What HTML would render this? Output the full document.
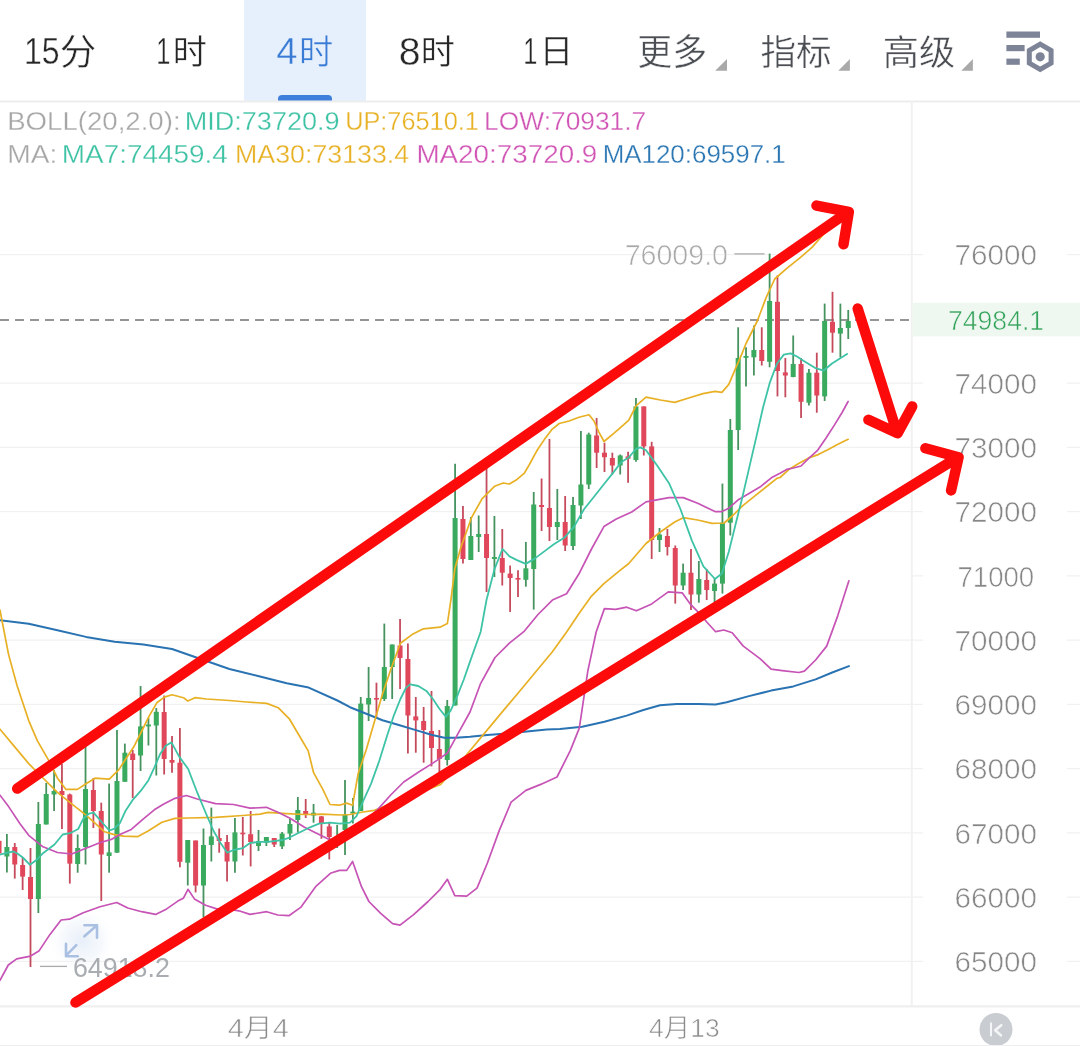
<!DOCTYPE html>
<html><head><meta charset="utf-8"><style>
html,body{margin:0;padding:0;background:#fff;}
body{width:1080px;height:1046px;overflow:hidden;position:relative;font-family:"Liberation Sans","Noto Sans CJK SC",sans-serif;}
svg{position:absolute;left:0;top:0;}
svg text{font-family:"Liberation Sans","Noto Sans CJK SC",sans-serif;}
</style></head><body>
<svg width="1080" height="1046" viewBox="0 0 1080 1046">
<rect x="0" y="0" width="1080" height="1046" fill="#fff"/>
<!-- header -->
<rect x="244" y="0" width="122" height="101" fill="#e6f0fc"/>
<path d="M278,101 L278,99 Q278,95 282,95 L328,95 Q332,95 332,99 L332,101 Z" fill="#3f7fdc"/>
<line x1="0" y1="101.4" x2="1080" y2="101.4" stroke="#ededed" stroke-width="2"/>
<text transform="matrix(0.8649,0,0,1.0038,23.91,64.40)" font-size="37" fill="#262626" stroke="#fff" stroke-width="0.4">15</text><text transform="matrix(1.1103,0,0,1.1000,59.68,64.50)" font-size="33" fill="#262626" stroke="#fff" stroke-width="0.4">分</text><text transform="matrix(0.6875,0,0,0.9962,156.24,64.20)" font-size="37" fill="#262626" stroke="#fff" stroke-width="0.4">1</text><text transform="matrix(1.0345,0,0,1.0323,172.80,63.90)" font-size="33" fill="#262626" stroke="#fff" stroke-width="0.4">时</text><text transform="matrix(1.0316,0,0,1.0038,276.37,64.20)" font-size="37" fill="#3a7bd6" stroke="#e6f0fc" stroke-width="0.4">4</text><text transform="matrix(1.0379,0,0,1.0323,298.89,63.90)" font-size="33" fill="#3a7bd6" stroke="#e6f0fc" stroke-width="0.4">时</text><text transform="matrix(1.0588,0,0,1.0308,398.78,64.80)" font-size="37" fill="#262626" stroke="#fff" stroke-width="0.4">8</text><text transform="matrix(1.0345,0,0,1.0323,420.80,63.90)" font-size="33" fill="#262626" stroke="#fff" stroke-width="0.4">时</text><text transform="matrix(0.6875,0,0,0.9962,523.34,64.20)" font-size="37" fill="#262626" stroke="#fff" stroke-width="0.4">1</text><text transform="matrix(1.0227,0,0,0.9897,539.56,62.73)" font-size="33" fill="#262626" stroke="#fff" stroke-width="0.4">日</text><text transform="matrix(1.0597,0,0,1.0903,637.18,65.03)" font-size="33" fill="#4b4e53" stroke="#fff" stroke-width="0.4">更多</text><text transform="matrix(1.0781,0,0,1.0742,760.42,64.78)" font-size="33" fill="#4b4e53" stroke="#fff" stroke-width="0.4">指标</text><text transform="matrix(1.1016,0,0,1.0645,882.70,64.81)" font-size="33" fill="#4b4e53" stroke="#fff" stroke-width="0.4">高级</text>
<path d="M727,59 L727,70.8 L715.2,70.8 Z" fill="#a9a9a9"/>
<path d="M849.9,59 L849.9,70.8 L838.3,70.8 Z" fill="#a9a9a9"/>
<path d="M972.9,59 L972.9,70.8 L961.3,70.8 Z" fill="#a9a9a9"/>
<!-- settings icon -->
<g fill="#7e8497">
<rect x="1006.4" y="31.5" width="33.6" height="6.3"/>
<rect x="1006.4" y="45" width="18.2" height="6.2"/>
<rect x="1006.4" y="58.6" width="13.4" height="6.2"/>
<circle cx="1040.2" cy="56.8" r="4.6"/>
</g>
<polygon points="1040.2,44.2 1051.1,50.5 1051.1,63.1 1040.2,69.4 1029.3,63.1 1029.3,50.5" fill="none" stroke="#7e8497" stroke-width="5"/>
<!-- legend -->
<text transform="matrix(1.0457,0,0,1.0000,7.21,130.00)" font-size="26.4" fill="#a6a6a6" stroke="#fff" stroke-width="0.3">BOLL(20,2.0):</text><text transform="matrix(1.0257,0,0,1.0000,184.65,130.00)" font-size="26.4" fill="#3dc2a4" stroke="#fff" stroke-width="0.3">MID:73720.9</text><text transform="matrix(0.9588,0,0,1.0000,345.18,130.00)" font-size="26.4" fill="#e8b124" stroke="#fff" stroke-width="0.3">UP:76510.1</text><text transform="matrix(0.9987,0,0,1.0000,484.10,130.00)" font-size="26.4" fill="#d055b5" stroke="#fff" stroke-width="0.3">LOW:70931.7</text><text transform="matrix(1.0674,0,0,1.0000,7.17,163.00)" font-size="26.4" fill="#a6a6a6" stroke="#fff" stroke-width="0.3">MA:</text><text transform="matrix(1.0571,0,0,1.0000,61.79,163.00)" font-size="26.4" fill="#3dc2a4" stroke="#fff" stroke-width="0.3">MA7:74459.4</text><text transform="matrix(1.0136,0,0,1.0000,235.07,163.00)" font-size="26.4" fill="#e8b124" stroke="#fff" stroke-width="0.3">MA30:73133.4</text><text transform="matrix(1.0542,0,0,1.0000,416.39,163.00)" font-size="26.4" fill="#d055b5" stroke="#fff" stroke-width="0.3">MA20:73720.9</text><text transform="matrix(0.9825,0,0,1.0000,602.63,163.00)" font-size="26.4" fill="#2b77b4" stroke="#fff" stroke-width="0.3">MA120:69597.1</text>
<!-- grid -->
<defs><radialGradient id="glow" cx="0.5" cy="0.5" r="0.5"><stop offset="0" stop-color="#e3ecf8" stop-opacity="0.85"/><stop offset="0.6" stop-color="#eef3fa" stop-opacity="0.5"/><stop offset="1" stop-color="#ffffff" stop-opacity="0"/></radialGradient></defs>
<circle cx="82" cy="941" r="34" fill="url(#glow)"/>
<line x1="0" y1="961.4" x2="1080" y2="961.4" stroke="#f1f1f1" stroke-width="1.4"/><line x1="0" y1="897.1" x2="1080" y2="897.1" stroke="#f1f1f1" stroke-width="1.4"/><line x1="0" y1="832.9" x2="1080" y2="832.9" stroke="#f1f1f1" stroke-width="1.4"/><line x1="0" y1="768.6" x2="1080" y2="768.6" stroke="#f1f1f1" stroke-width="1.4"/><line x1="0" y1="704.4" x2="1080" y2="704.4" stroke="#f1f1f1" stroke-width="1.4"/><line x1="0" y1="640.1" x2="1080" y2="640.1" stroke="#f1f1f1" stroke-width="1.4"/><line x1="911" y1="575.9" x2="1080" y2="575.9" stroke="#f1f1f1" stroke-width="1.4"/><line x1="0" y1="511.6" x2="1080" y2="511.6" stroke="#f1f1f1" stroke-width="1.4"/><line x1="0" y1="447.4" x2="1080" y2="447.4" stroke="#f1f1f1" stroke-width="1.4"/><line x1="0" y1="383.1" x2="1080" y2="383.1" stroke="#f1f1f1" stroke-width="1.4"/><line x1="0" y1="254.6" x2="1080" y2="254.6" stroke="#f1f1f1" stroke-width="1.4"/>
<line x1="911.8" y1="101" x2="911.8" y2="1006" stroke="#f1f1f1" stroke-width="2"/>
<line x1="0" y1="1006.4" x2="1080" y2="1006.4" stroke="#efefef" stroke-width="2.2"/>
<rect x="923" y="945.4" width="144" height="32" fill="#fff"/><rect x="923" y="881.1" width="144" height="32" fill="#fff"/><rect x="923" y="816.9" width="144" height="32" fill="#fff"/><rect x="923" y="752.6" width="144" height="32" fill="#fff"/><rect x="923" y="688.4" width="144" height="32" fill="#fff"/><rect x="923" y="624.1" width="144" height="32" fill="#fff"/><rect x="923" y="559.9" width="144" height="32" fill="#fff"/><rect x="923" y="495.6" width="144" height="32" fill="#fff"/><rect x="923" y="431.4" width="144" height="32" fill="#fff"/><rect x="923" y="367.1" width="144" height="32" fill="#fff"/><rect x="923" y="238.6" width="144" height="32" fill="#fff"/>
<rect x="912.5" y="302.8" width="167.5" height="33.6" fill="#eef8f1"/>
<line x1="0" y1="320" x2="910" y2="320" stroke="#959595" stroke-width="1.8" stroke-dasharray="9,6"/>
<!-- candles -->
<line x1="-0.96" y1="839.4" x2="-0.96" y2="863.5" stroke="#c44a5c" stroke-width="1.8"/><rect x="-3.46" y="840.8" width="5" height="12.7" fill="#e0475b"/><line x1="6.90" y1="834.0" x2="6.90" y2="872.6" stroke="#46935f" stroke-width="1.8"/><rect x="4.40" y="847.0" width="5" height="9.5" fill="#3aaa5e"/><line x1="14.76" y1="843.0" x2="14.76" y2="878.6" stroke="#c44a5c" stroke-width="1.8"/><rect x="12.26" y="847.0" width="5" height="17.5" fill="#e0475b"/><line x1="22.63" y1="857.0" x2="22.63" y2="890.0" stroke="#c44a5c" stroke-width="1.8"/><rect x="20.13" y="865.0" width="5" height="11.6" fill="#e0475b"/><line x1="30.49" y1="848.0" x2="30.49" y2="967.0" stroke="#c44a5c" stroke-width="1.8"/><rect x="27.99" y="877.0" width="5" height="22.0" fill="#e0475b"/><line x1="38.35" y1="802.0" x2="38.35" y2="913.0" stroke="#46935f" stroke-width="1.8"/><rect x="35.85" y="824.0" width="5" height="75.0" fill="#3aaa5e"/><line x1="46.22" y1="783.0" x2="46.22" y2="824.5" stroke="#46935f" stroke-width="1.8"/><rect x="43.72" y="794.0" width="5" height="30.5" fill="#3aaa5e"/><line x1="54.08" y1="770.0" x2="54.08" y2="811.0" stroke="#46935f" stroke-width="1.8"/><rect x="51.58" y="791.0" width="5" height="3.5" fill="#3aaa5e"/><line x1="61.94" y1="764.0" x2="61.94" y2="829.0" stroke="#c44a5c" stroke-width="1.8"/><rect x="59.44" y="791.0" width="5" height="4.0" fill="#e0475b"/><line x1="69.80" y1="793.6" x2="69.80" y2="883.6" stroke="#c44a5c" stroke-width="1.8"/><rect x="67.30" y="794.5" width="5" height="69.1" fill="#e0475b"/><line x1="77.67" y1="834.5" x2="77.67" y2="872.7" stroke="#46935f" stroke-width="1.8"/><rect x="75.17" y="848.0" width="5" height="16.0" fill="#3aaa5e"/><line x1="85.53" y1="747.0" x2="85.53" y2="864.5" stroke="#46935f" stroke-width="1.8"/><rect x="83.03" y="789.0" width="5" height="58.0" fill="#3aaa5e"/><line x1="93.39" y1="778.0" x2="93.39" y2="828.0" stroke="#c44a5c" stroke-width="1.8"/><rect x="90.89" y="790.0" width="5" height="21.0" fill="#e0475b"/><line x1="101.26" y1="802.7" x2="101.26" y2="901.0" stroke="#c44a5c" stroke-width="1.8"/><rect x="98.76" y="811.0" width="5" height="43.5" fill="#e0475b"/><line x1="109.12" y1="783.6" x2="109.12" y2="872.7" stroke="#46935f" stroke-width="1.8"/><rect x="106.62" y="852.4" width="5" height="3.6" fill="#3aaa5e"/><line x1="116.98" y1="730.0" x2="116.98" y2="852.7" stroke="#46935f" stroke-width="1.8"/><rect x="114.48" y="781.0" width="5" height="71.7" fill="#3aaa5e"/><line x1="124.85" y1="743.6" x2="124.85" y2="781.8" stroke="#46935f" stroke-width="1.8"/><rect x="122.35" y="752.7" width="5" height="29.1" fill="#3aaa5e"/><line x1="132.71" y1="750.0" x2="132.71" y2="798.0" stroke="#c44a5c" stroke-width="1.8"/><rect x="130.21" y="753.6" width="5" height="6.4" fill="#e0475b"/><line x1="140.57" y1="686.0" x2="140.57" y2="771.0" stroke="#46935f" stroke-width="1.8"/><rect x="138.07" y="726.4" width="5" height="29.1" fill="#3aaa5e"/><line x1="148.43" y1="718.0" x2="148.43" y2="745.5" stroke="#46935f" stroke-width="1.8"/><rect x="145.93" y="724.5" width="5" height="1.9" fill="#3aaa5e"/><line x1="156.30" y1="708.0" x2="156.30" y2="775.5" stroke="#46935f" stroke-width="1.8"/><rect x="153.80" y="711.8" width="5" height="13.7" fill="#3aaa5e"/><line x1="164.16" y1="695.5" x2="164.16" y2="774.5" stroke="#c44a5c" stroke-width="1.8"/><rect x="161.66" y="712.0" width="5" height="47.0" fill="#e0475b"/><line x1="172.02" y1="736.0" x2="172.02" y2="772.7" stroke="#c44a5c" stroke-width="1.8"/><rect x="169.52" y="760.0" width="5" height="2.7" fill="#e0475b"/><line x1="179.89" y1="728.0" x2="179.89" y2="867.3" stroke="#c44a5c" stroke-width="1.8"/><rect x="177.39" y="762.7" width="5" height="99.1" fill="#e0475b"/><line x1="187.75" y1="840.0" x2="187.75" y2="885.5" stroke="#46935f" stroke-width="1.8"/><rect x="185.25" y="840.0" width="5" height="22.7" fill="#3aaa5e"/><line x1="195.61" y1="840.5" x2="195.61" y2="892.4" stroke="#c44a5c" stroke-width="1.8"/><rect x="193.11" y="840.5" width="5" height="45.0" fill="#e0475b"/><line x1="203.48" y1="828.5" x2="203.48" y2="917.3" stroke="#46935f" stroke-width="1.8"/><rect x="200.98" y="845.0" width="5" height="40.5" fill="#3aaa5e"/><line x1="211.34" y1="807.6" x2="211.34" y2="861.5" stroke="#46935f" stroke-width="1.8"/><rect x="208.84" y="836.4" width="5" height="8.6" fill="#3aaa5e"/><line x1="219.20" y1="828.5" x2="219.20" y2="852.7" stroke="#c44a5c" stroke-width="1.8"/><rect x="216.70" y="838.0" width="5" height="3.0" fill="#e0475b"/><line x1="227.06" y1="835.0" x2="227.06" y2="881.5" stroke="#c44a5c" stroke-width="1.8"/><rect x="224.56" y="842.0" width="5" height="19.5" fill="#e0475b"/><line x1="234.93" y1="818.0" x2="234.93" y2="872.7" stroke="#46935f" stroke-width="1.8"/><rect x="232.43" y="832.4" width="5" height="29.1" fill="#3aaa5e"/><line x1="242.79" y1="817.0" x2="242.79" y2="855.5" stroke="#c44a5c" stroke-width="1.8"/><rect x="240.29" y="832.7" width="5" height="1.6" fill="#e0475b"/><line x1="250.65" y1="811.0" x2="250.65" y2="866.4" stroke="#c44a5c" stroke-width="1.8"/><rect x="248.15" y="834.2" width="5" height="7.8" fill="#e0475b"/><line x1="258.52" y1="830.0" x2="258.52" y2="851.0" stroke="#46935f" stroke-width="1.8"/><rect x="256.02" y="841.0" width="5" height="5.0" fill="#3aaa5e"/><line x1="266.38" y1="837.0" x2="266.38" y2="846.0" stroke="#46935f" stroke-width="1.8"/><rect x="263.88" y="837.0" width="5" height="5.7" fill="#3aaa5e"/><line x1="274.24" y1="838.0" x2="274.24" y2="847.0" stroke="#c44a5c" stroke-width="1.8"/><rect x="271.74" y="838.0" width="5" height="6.5" fill="#e0475b"/><line x1="282.11" y1="832.0" x2="282.11" y2="849.0" stroke="#46935f" stroke-width="1.8"/><rect x="279.61" y="833.6" width="5" height="12.8" fill="#3aaa5e"/><line x1="289.97" y1="819.0" x2="289.97" y2="840.0" stroke="#46935f" stroke-width="1.8"/><rect x="287.47" y="824.0" width="5" height="9.6" fill="#3aaa5e"/><line x1="297.83" y1="797.0" x2="297.83" y2="832.7" stroke="#46935f" stroke-width="1.8"/><rect x="295.33" y="810.0" width="5" height="10.0" fill="#3aaa5e"/><line x1="305.69" y1="799.0" x2="305.69" y2="818.0" stroke="#c44a5c" stroke-width="1.8"/><rect x="303.19" y="811.0" width="5" height="4.0" fill="#e0475b"/><line x1="313.56" y1="804.0" x2="313.56" y2="822.7" stroke="#46935f" stroke-width="1.8"/><rect x="311.06" y="812.7" width="5" height="2.8" fill="#3aaa5e"/><line x1="321.42" y1="816.0" x2="321.42" y2="838.8" stroke="#c44a5c" stroke-width="1.8"/><rect x="318.92" y="816.4" width="5" height="6.6" fill="#e0475b"/><line x1="329.28" y1="822.6" x2="329.28" y2="859.4" stroke="#c44a5c" stroke-width="1.8"/><rect x="326.78" y="826.4" width="5" height="10.6" fill="#e0475b"/><line x1="337.15" y1="824.9" x2="337.15" y2="848.0" stroke="#46935f" stroke-width="1.8"/><rect x="334.65" y="838.0" width="5" height="5.0" fill="#3aaa5e"/><line x1="345.01" y1="780.0" x2="345.01" y2="855.0" stroke="#46935f" stroke-width="1.8"/><rect x="342.51" y="815.0" width="5" height="15.0" fill="#3aaa5e"/><line x1="352.87" y1="798.0" x2="352.87" y2="823.5" stroke="#46935f" stroke-width="1.8"/><rect x="350.37" y="811.6" width="5" height="1.9" fill="#3aaa5e"/><line x1="360.74" y1="697.0" x2="360.74" y2="811.0" stroke="#46935f" stroke-width="1.8"/><rect x="358.24" y="703.6" width="5" height="107.4" fill="#3aaa5e"/><line x1="368.60" y1="667.0" x2="368.60" y2="721.0" stroke="#46935f" stroke-width="1.8"/><rect x="366.10" y="698.0" width="5" height="6.5" fill="#3aaa5e"/><line x1="376.46" y1="682.7" x2="376.46" y2="718.0" stroke="#c44a5c" stroke-width="1.8"/><rect x="373.96" y="698.0" width="5" height="1.6" fill="#e0475b"/><line x1="384.32" y1="623.6" x2="384.32" y2="701.0" stroke="#46935f" stroke-width="1.8"/><rect x="381.82" y="667.0" width="5" height="32.0" fill="#3aaa5e"/><line x1="392.19" y1="644.5" x2="392.19" y2="699.0" stroke="#46935f" stroke-width="1.8"/><rect x="389.69" y="644.5" width="5" height="22.5" fill="#3aaa5e"/><line x1="400.05" y1="619.0" x2="400.05" y2="689.0" stroke="#c44a5c" stroke-width="1.8"/><rect x="397.55" y="645.5" width="5" height="12.5" fill="#e0475b"/><line x1="407.91" y1="643.6" x2="407.91" y2="753.6" stroke="#c44a5c" stroke-width="1.8"/><rect x="405.41" y="659.0" width="5" height="56.5" fill="#e0475b"/><line x1="415.78" y1="697.0" x2="415.78" y2="752.7" stroke="#c44a5c" stroke-width="1.8"/><rect x="413.28" y="716.4" width="5" height="4.0" fill="#e0475b"/><line x1="423.64" y1="707.0" x2="423.64" y2="762.7" stroke="#c44a5c" stroke-width="1.8"/><rect x="421.14" y="721.0" width="5" height="9.0" fill="#e0475b"/><line x1="431.50" y1="691.0" x2="431.50" y2="766.4" stroke="#c44a5c" stroke-width="1.8"/><rect x="429.00" y="731.0" width="5" height="17.0" fill="#e0475b"/><line x1="439.37" y1="730.0" x2="439.37" y2="772.0" stroke="#c44a5c" stroke-width="1.8"/><rect x="436.87" y="749.0" width="5" height="10.0" fill="#e0475b"/><line x1="447.23" y1="700.0" x2="447.23" y2="765.5" stroke="#46935f" stroke-width="1.8"/><rect x="444.73" y="706.0" width="5" height="54.0" fill="#3aaa5e"/><line x1="455.09" y1="463.8" x2="455.09" y2="705.5" stroke="#46935f" stroke-width="1.8"/><rect x="452.59" y="518.0" width="5" height="187.5" fill="#3aaa5e"/><line x1="462.95" y1="506.0" x2="462.95" y2="563.6" stroke="#c44a5c" stroke-width="1.8"/><rect x="460.45" y="519.0" width="5" height="40.0" fill="#e0475b"/><line x1="470.82" y1="517.0" x2="470.82" y2="560.0" stroke="#46935f" stroke-width="1.8"/><rect x="468.32" y="536.0" width="5" height="24.0" fill="#3aaa5e"/><line x1="478.68" y1="515.5" x2="478.68" y2="552.0" stroke="#46935f" stroke-width="1.8"/><rect x="476.18" y="534.0" width="5" height="3.0" fill="#3aaa5e"/><line x1="486.54" y1="468.0" x2="486.54" y2="592.0" stroke="#c44a5c" stroke-width="1.8"/><rect x="484.04" y="534.0" width="5" height="24.0" fill="#e0475b"/><line x1="494.41" y1="516.0" x2="494.41" y2="577.0" stroke="#46935f" stroke-width="1.8"/><rect x="491.91" y="557.0" width="5" height="2.0" fill="#3aaa5e"/><line x1="502.27" y1="529.0" x2="502.27" y2="585.5" stroke="#c44a5c" stroke-width="1.8"/><rect x="499.77" y="558.0" width="5" height="14.7" fill="#e0475b"/><line x1="510.13" y1="565.5" x2="510.13" y2="612.0" stroke="#c44a5c" stroke-width="1.8"/><rect x="507.63" y="573.6" width="5" height="4.4" fill="#e0475b"/><line x1="518.00" y1="570.2" x2="518.00" y2="597.0" stroke="#c44a5c" stroke-width="1.8"/><rect x="515.50" y="578.0" width="5" height="1.6" fill="#e0475b"/><line x1="525.86" y1="541.9" x2="525.86" y2="586.7" stroke="#46935f" stroke-width="1.8"/><rect x="523.36" y="568.3" width="5" height="11.5" fill="#3aaa5e"/><line x1="533.72" y1="492.0" x2="533.72" y2="609.6" stroke="#46935f" stroke-width="1.8"/><rect x="531.22" y="504.5" width="5" height="64.5" fill="#3aaa5e"/><line x1="541.58" y1="478.5" x2="541.58" y2="531.0" stroke="#c44a5c" stroke-width="1.8"/><rect x="539.08" y="505.0" width="5" height="2.0" fill="#e0475b"/><line x1="549.45" y1="439.0" x2="549.45" y2="541.0" stroke="#c44a5c" stroke-width="1.8"/><rect x="546.95" y="508.0" width="5" height="19.0" fill="#e0475b"/><line x1="557.31" y1="489.0" x2="557.31" y2="540.0" stroke="#46935f" stroke-width="1.8"/><rect x="554.81" y="522.0" width="5" height="5.0" fill="#3aaa5e"/><line x1="565.17" y1="496.0" x2="565.17" y2="551.0" stroke="#c44a5c" stroke-width="1.8"/><rect x="562.67" y="522.0" width="5" height="23.5" fill="#e0475b"/><line x1="573.04" y1="497.0" x2="573.04" y2="550.0" stroke="#46935f" stroke-width="1.8"/><rect x="570.54" y="505.0" width="5" height="41.0" fill="#3aaa5e"/><line x1="580.90" y1="431.0" x2="580.90" y2="519.0" stroke="#46935f" stroke-width="1.8"/><rect x="578.40" y="484.5" width="5" height="21.0" fill="#3aaa5e"/><line x1="588.76" y1="432.7" x2="588.76" y2="489.0" stroke="#46935f" stroke-width="1.8"/><rect x="586.26" y="434.5" width="5" height="50.0" fill="#3aaa5e"/><line x1="596.62" y1="418.0" x2="596.62" y2="468.0" stroke="#c44a5c" stroke-width="1.8"/><rect x="594.12" y="435.5" width="5" height="17.2" fill="#e0475b"/><line x1="604.49" y1="442.7" x2="604.49" y2="472.0" stroke="#c44a5c" stroke-width="1.8"/><rect x="601.99" y="452.7" width="5" height="4.5" fill="#e0475b"/><line x1="612.35" y1="452.7" x2="612.35" y2="474.5" stroke="#c44a5c" stroke-width="1.8"/><rect x="609.85" y="458.0" width="5" height="7.5" fill="#e0475b"/><line x1="620.21" y1="454.5" x2="620.21" y2="474.5" stroke="#46935f" stroke-width="1.8"/><rect x="617.71" y="455.5" width="5" height="10.0" fill="#3aaa5e"/><line x1="628.08" y1="451.8" x2="628.08" y2="482.7" stroke="#c44a5c" stroke-width="1.8"/><rect x="625.58" y="456.4" width="5" height="2.3" fill="#e0475b"/><line x1="635.94" y1="398.0" x2="635.94" y2="461.8" stroke="#46935f" stroke-width="1.8"/><rect x="633.44" y="406.4" width="5" height="53.6" fill="#3aaa5e"/><line x1="643.80" y1="406.4" x2="643.80" y2="455.5" stroke="#c44a5c" stroke-width="1.8"/><rect x="641.30" y="406.4" width="5" height="40.0" fill="#e0475b"/><line x1="651.67" y1="441.8" x2="651.67" y2="559.0" stroke="#c44a5c" stroke-width="1.8"/><rect x="649.17" y="446.4" width="5" height="93.6" fill="#e0475b"/><line x1="659.53" y1="528.0" x2="659.53" y2="552.0" stroke="#46935f" stroke-width="1.8"/><rect x="657.03" y="534.5" width="5" height="5.5" fill="#3aaa5e"/><line x1="667.39" y1="529.0" x2="667.39" y2="555.5" stroke="#c44a5c" stroke-width="1.8"/><rect x="664.89" y="536.0" width="5" height="11.0" fill="#e0475b"/><line x1="675.25" y1="545.5" x2="675.25" y2="603.6" stroke="#c44a5c" stroke-width="1.8"/><rect x="672.75" y="548.0" width="5" height="37.5" fill="#e0475b"/><line x1="683.12" y1="563.6" x2="683.12" y2="590.0" stroke="#46935f" stroke-width="1.8"/><rect x="680.62" y="572.7" width="5" height="12.8" fill="#3aaa5e"/><line x1="690.98" y1="549.0" x2="690.98" y2="610.0" stroke="#c44a5c" stroke-width="1.8"/><rect x="688.48" y="572.7" width="5" height="21.8" fill="#e0475b"/><line x1="698.84" y1="561.0" x2="698.84" y2="602.7" stroke="#46935f" stroke-width="1.8"/><rect x="696.34" y="579.0" width="5" height="15.5" fill="#3aaa5e"/><line x1="706.71" y1="569.0" x2="706.71" y2="600.0" stroke="#c44a5c" stroke-width="1.8"/><rect x="704.21" y="580.0" width="5" height="10.0" fill="#e0475b"/><line x1="714.57" y1="578.0" x2="714.57" y2="602.0" stroke="#46935f" stroke-width="1.8"/><rect x="712.07" y="583.6" width="5" height="7.4" fill="#3aaa5e"/><line x1="722.43" y1="483.6" x2="722.43" y2="593.6" stroke="#46935f" stroke-width="1.8"/><rect x="719.93" y="522.7" width="5" height="60.9" fill="#3aaa5e"/><line x1="730.30" y1="419.0" x2="730.30" y2="535.5" stroke="#46935f" stroke-width="1.8"/><rect x="727.80" y="430.0" width="5" height="92.7" fill="#3aaa5e"/><line x1="738.16" y1="327.3" x2="738.16" y2="450.0" stroke="#46935f" stroke-width="1.8"/><rect x="735.66" y="358.0" width="5" height="72.0" fill="#3aaa5e"/><line x1="746.02" y1="347.3" x2="746.02" y2="386.4" stroke="#46935f" stroke-width="1.8"/><rect x="743.52" y="356.0" width="5" height="1.8" fill="#3aaa5e"/><line x1="753.88" y1="325.5" x2="753.88" y2="375.5" stroke="#46935f" stroke-width="1.8"/><rect x="751.38" y="350.0" width="5" height="7.3" fill="#3aaa5e"/><line x1="761.75" y1="327.3" x2="761.75" y2="365.5" stroke="#c44a5c" stroke-width="1.8"/><rect x="759.25" y="350.0" width="5" height="11.0" fill="#e0475b"/><line x1="769.61" y1="253.6" x2="769.61" y2="367.3" stroke="#46935f" stroke-width="1.8"/><rect x="767.11" y="301.0" width="5" height="60.8" fill="#3aaa5e"/><line x1="777.47" y1="275.5" x2="777.47" y2="396.4" stroke="#c44a5c" stroke-width="1.8"/><rect x="774.97" y="301.8" width="5" height="69.2" fill="#e0475b"/><line x1="785.34" y1="358.0" x2="785.34" y2="397.3" stroke="#c44a5c" stroke-width="1.8"/><rect x="782.84" y="372.4" width="5" height="3.1" fill="#e0475b"/><line x1="793.20" y1="335.5" x2="793.20" y2="377.3" stroke="#46935f" stroke-width="1.8"/><rect x="790.70" y="364.0" width="5" height="13.0" fill="#3aaa5e"/><line x1="801.06" y1="358.0" x2="801.06" y2="418.0" stroke="#c44a5c" stroke-width="1.8"/><rect x="798.56" y="364.0" width="5" height="37.8" fill="#e0475b"/><line x1="808.93" y1="369.0" x2="808.93" y2="405.5" stroke="#46935f" stroke-width="1.8"/><rect x="806.43" y="372.7" width="5" height="30.0" fill="#3aaa5e"/><line x1="816.79" y1="352.7" x2="816.79" y2="412.7" stroke="#c44a5c" stroke-width="1.8"/><rect x="814.29" y="372.7" width="5" height="22.8" fill="#e0475b"/><line x1="824.65" y1="303.6" x2="824.65" y2="401.0" stroke="#46935f" stroke-width="1.8"/><rect x="822.15" y="321.0" width="5" height="75.4" fill="#3aaa5e"/><line x1="832.51" y1="291.8" x2="832.51" y2="352.7" stroke="#c44a5c" stroke-width="1.8"/><rect x="830.01" y="321.8" width="5" height="10.9" fill="#e0475b"/><line x1="840.38" y1="303.6" x2="840.38" y2="357.3" stroke="#46935f" stroke-width="1.8"/><rect x="837.88" y="328.0" width="5" height="5.6" fill="#3aaa5e"/><line x1="848.24" y1="310.0" x2="848.24" y2="339.0" stroke="#46935f" stroke-width="1.8"/><rect x="845.74" y="321.0" width="5" height="7.0" fill="#3aaa5e"/>
<!-- MA lines -->
<g fill="none" stroke-width="1.7" stroke-linejoin="round" stroke-linecap="round">
<polyline points="0.0,620.2 28.7,623.7 57.4,630.3 86.0,636.9 114.7,641.7 143.4,644.6 172.0,649.0 200.7,659.0 229.4,669.0 258.0,676.0 286.8,683.3 308.7,687.6 337.4,700.5 350.0,707.2 366.3,713.7 382.5,720.2 398.8,725.0 415.0,729.9 431.3,734.8 444.3,737.7 455.7,737.7 470.0,736.7 487.4,735.0 517.0,732.6 546.7,729.6 560.0,728.9 582.2,726.7 604.4,721.7 626.7,715.6 643.3,710.0 660.0,705.3 676.7,703.9 698.9,703.9 715.6,704.4 726.7,702.2 748.9,696.1 771.1,690.6 793.3,686.4 815.6,679.4 832.2,672.5 848.9,666.1" stroke="#2a73b3" stroke-width="2"/>
<polyline points="0.0,980.3 8.3,965.0 16.7,958.9 30.6,956.1 38.9,951.1 50.0,934.4 61.1,920.0 69.4,919.2 83.3,912.8 100.0,906.7 116.7,902.5 127.8,908.0 141.7,911.7 155.6,914.4 166.7,908.9 177.8,901.1 183.3,898.3 188.0,889.3 194.4,898.9 205.6,905.3 216.7,908.9 227.8,908.9 238.9,910.8 250.0,914.4 266.7,911.7 277.8,915.0 288.9,915.7 300.7,907.4 315.6,886.7 330.4,873.3 339.3,870.4 346.7,870.4 352.6,861.5 361.5,886.7 368.9,901.5 380.7,913.3 392.6,923.7 400.0,925.2 413.3,914.8 428.1,901.5 440.0,889.6 447.4,879.3 454.8,895.6 466.7,896.1 477.0,888.1 487.4,863.0 499.3,830.4 511.1,802.2 525.9,790.4 540.7,784.4 557.0,777.0 570.4,750.4 579.3,728.1 587.8,671.1 596.1,632.2 604.4,608.6 615.6,609.4 626.7,607.2 636.4,610.8 651.7,603.9 668.3,591.9 682.2,592.8 690.6,604.4 698.9,612.8 707.2,622.5 715.6,631.7 723.9,630.0 732.2,632.8 743.3,646.1 760.0,658.6 771.1,669.2 782.2,670.6 798.9,672.5 804.4,671.1 815.6,660.0 826.7,646.1 837.8,615.6 848.9,580.8" stroke="#c653b5"/>
<polyline points="0.0,610.2 8.6,654.6 17.2,686.0 28.7,720.6 37.3,740.7 48.8,760.7 57.4,778.0 66.0,789.4 77.4,789.4 86.0,783.7 95.0,778.2 109.3,779.2 118.9,769.6 126.2,758.3 133.8,746.8 141.5,731.5 149.1,716.2 156.8,702.8 164.4,697.1 172.0,694.8 183.5,697.7 187.8,701.0 195.0,697.7 206.5,699.0 229.4,700.5 246.6,702.0 266.7,703.4 278.2,707.7 289.6,719.2 301.8,740.0 308.2,750.9 313.6,772.7 322.7,789.1 330.0,804.5 339.3,805.2 346.7,803.1 352.6,805.2 358.1,773.8 366.3,749.4 374.4,721.8 382.5,694.1 390.7,669.8 400.4,643.2 412.0,634.6 423.4,628.8 440.0,627.2 447.4,623.5 451.1,598.6 454.8,568.8 461.0,547.0 471.5,517.7 482.0,498.8 494.7,486.2 503.1,483.0 509.4,484.0 517.0,479.4 524.4,473.2 529.4,464.5 536.8,450.8 544.3,439.6 551.7,429.7 559.2,423.5 569.1,421.0 579.0,417.3 589.0,414.8 594.0,421.0 598.9,432.2 604.0,441.5 613.8,433.4 623.8,424.7 628.8,420.1 636.0,405.8 646.0,397.2 660.4,400.0 674.7,402.4 688.7,398.0 703.0,393.6 715.0,391.3 721.9,392.4 728.8,384.4 735.6,368.3 742.5,352.3 746.0,343.5 757.5,320.5 766.1,297.6 774.7,279.0 786.2,268.9 800.5,257.4 812.0,247.4 822.0,236.0 835.0,222.0" stroke="#e8b024"/>
<polyline points="0.0,729.2 14.3,746.4 28.7,763.6 43.0,778.0 57.4,792.3 71.7,803.8 86.0,815.2 95.0,823.2 104.6,831.8 114.1,834.6 123.7,836.1 138.0,836.6 148.5,830.8 161.9,822.2 175.0,818.4 188.2,818.0 215.5,817.3 242.7,815.5 260.0,814.2 268.2,812.4 286.4,813.6 304.5,814.5 322.7,814.2 340.0,815.0 350.0,814.5 363.0,812.0 374.4,810.4 440.6,784.5 466.4,755.0 495.0,720.6 523.8,686.2 552.4,651.8 566.8,631.7 579.0,613.5 591.5,596.1 603.9,583.7 618.8,571.3 628.8,563.5 646.0,543.5 660.4,532.0 674.7,522.0 683.3,517.7 697.7,520.0 712.0,523.4 724.2,523.0 733.3,515.0 742.5,505.9 754.0,496.7 765.4,487.5 776.9,478.4 780.0,477.5 789.6,468.9 799.1,463.2 808.7,457.9 818.2,454.6 827.8,449.8 837.4,444.5 848.1,439.3" stroke="#e8b024"/>
<polyline points="0.0,795.2 8.6,806.6 20.0,823.8 28.7,835.3 43.0,846.8 57.4,852.5 71.7,854.0 86.0,848.2 100.4,842.5 111.3,839.4 119.9,834.6 131.3,829.4 142.8,819.3 154.3,809.8 163.8,804.0 175.0,798.3 186.4,795.5 197.3,799.0 215.5,803.6 233.6,804.5 250.0,808.2 266.4,807.3 279.1,812.7 290.0,818.2 304.5,827.3 319.1,834.5 328.2,839.0 340.0,840.0 360.0,826.0 377.6,809.6 390.7,795.0 403.7,782.0 418.3,772.2 431.3,764.1 441.0,757.6 447.6,752.7 457.3,734.8 470.0,712.0 480.7,683.3 495.0,657.5 509.4,643.2 523.8,631.7 538.0,614.5 552.4,600.1 566.6,593.7 579.0,573.8 591.5,549.0 603.9,526.6 616.3,519.1 631.7,512.0 646.0,501.9 669.0,497.6 683.3,497.6 697.7,503.3 715.0,511.6 721.9,511.6 728.8,508.2 737.9,500.1 749.4,493.3 760.8,486.4 772.3,477.2 780.0,473.2 786.7,469.4 793.4,468.0 801.0,466.0 808.7,458.4 817.3,450.7 825.9,438.3 834.5,424.9 842.1,412.5 848.1,401.5" stroke="#c653b5"/>
</g>
<polyline points="0.0,854.6 6.7,852.8 13.4,851.5 17.4,853.5 22.8,857.5 30.0,864.8 36.4,860.0 43.6,852.7 54.5,844.5 62.7,834.5 70.0,833.2 78.2,829.0 83.6,818.2 89.0,813.6 93.6,812.7 101.7,822.0 109.3,830.5 114.1,828.9 119.9,823.2 125.6,810.7 133.2,799.3 140.9,790.7 148.5,780.2 154.3,767.7 160.0,754.3 165.7,745.7 171.5,742.4 179.0,756.4 188.2,769.0 197.3,792.7 206.4,814.5 213.6,831.0 220.9,843.6 227.3,852.7 233.6,850.0 242.7,848.2 250.0,843.0 260.0,841.8 268.2,841.8 282.7,840.0 290.0,837.3 300.9,831.8 310.0,827.3 319.1,823.6 330.0,822.7 340.0,823.6 350.0,822.6 356.5,816.1 363.0,801.5 371.1,783.6 379.3,760.8 387.4,734.8 393.9,715.3 400.4,699.0 406.1,687.6 410.2,684.4 418.3,686.0 426.4,690.9 432.9,699.0 439.4,708.8 445.9,716.9 450.8,710.4 457.3,695.8 463.8,679.5 470.0,661.6 480.7,631.7 486.5,600.0 494.6,568.8 502.5,549.0 509.5,556.4 517.0,560.1 525.7,563.9 534.3,558.9 544.3,551.4 554.2,544.0 564.2,537.8 574.1,526.6 584.0,509.2 594.0,496.8 603.9,484.3 613.8,471.9 621.3,462.0 628.8,457.4 636.0,449.0 640.3,447.4 646.0,450.3 657.5,466.0 669.0,483.2 680.4,509.0 691.9,540.6 703.4,566.4 715.0,579.0 721.9,573.5 728.8,551.7 735.6,524.2 742.5,496.7 749.4,466.9 756.3,437.1 763.1,407.3 770.0,382.1 776.9,363.8 783.8,354.6 790.6,353.4 797.0,356.5 803.4,360.7 814.9,367.8 823.5,370.7 832.0,363.5 847.8,353.5" fill="none" stroke="#3ec3a6" stroke-width="1.8" stroke-linejoin="round"/>
<!-- max/min labels -->
<line x1="734.4" y1="253.9" x2="764.5" y2="253.9" stroke="#aaaaaa" stroke-width="1.3"/>
<line x1="40" y1="966.4" x2="67" y2="966.4" stroke="#aaaaaa" stroke-width="1.3"/>
<!-- expand icon -->
<g stroke="#a9c0e3" stroke-width="2.6" fill="none" stroke-linecap="round" stroke-linejoin="round">
<path d="M84.4,936.3 L97,925.2 M84.4,925.2 L97,925.2 L97,937.8"/>
<path d="M76.3,945.2 L66,955.6 M66,943.7 L66,956.3 L77.8,956.3"/>
</g>
<text transform="matrix(1.0592,0,0,1.0368,954.59,972.15)" font-size="28" fill="#878787" stroke="#fff" stroke-width="0.6">65000</text><text transform="matrix(1.0592,0,0,1.0368,954.59,907.90)" font-size="28" fill="#878787" stroke="#fff" stroke-width="0.6">66000</text><text transform="matrix(1.0592,0,0,1.0368,954.59,843.65)" font-size="28" fill="#878787" stroke="#fff" stroke-width="0.6">67000</text><text transform="matrix(1.0592,0,0,1.0368,954.59,779.40)" font-size="28" fill="#878787" stroke="#fff" stroke-width="0.6">68000</text><text transform="matrix(1.0592,0,0,1.0368,954.59,715.15)" font-size="28" fill="#878787" stroke="#fff" stroke-width="0.6">69000</text><text transform="matrix(1.0592,0,0,1.0368,954.59,650.90)" font-size="28" fill="#878787" stroke="#fff" stroke-width="0.6">70000</text><text transform="matrix(0.9868,0,0,1.0368,957.41,586.65)" font-size="28" fill="#878787" stroke="#fff" stroke-width="0.6">71000</text><text transform="matrix(1.0592,0,0,1.0368,954.59,522.40)" font-size="28" fill="#878787" stroke="#fff" stroke-width="0.6">72000</text><text transform="matrix(1.0592,0,0,1.0368,954.59,458.15)" font-size="28" fill="#878787" stroke="#fff" stroke-width="0.6">73000</text><text transform="matrix(1.0592,0,0,1.0368,954.59,393.90)" font-size="28" fill="#878787" stroke="#fff" stroke-width="0.6">74000</text><text transform="matrix(1.0592,0,0,1.0368,954.59,265.40)" font-size="28" fill="#878787" stroke="#fff" stroke-width="0.6">76000</text><text transform="matrix(0.9505,0,0,1.0105,947.95,329.80)" font-size="28" fill="#33a25a" stroke="#eef8f1" stroke-width="0.6">74984.1</text><text transform="matrix(1.0212,0,0,1.0526,624.68,265.40)" font-size="28" fill="#a9a9a9" stroke="#fff" stroke-width="0.6">76009.0</text><text transform="matrix(0.9937,0,0,1.0211,72.91,977.20)" font-size="27" fill="#a9adb2">64918.2</text><text transform="matrix(1.1113,0,0,0.9870,227.79,1037.43)" font-size="26" fill="#8a8a8a" stroke="#fff" stroke-width="0.6">4月4</text><text transform="matrix(1.0194,0,0,0.9870,648.98,1037.43)" font-size="26" fill="#8a8a8a" stroke="#fff" stroke-width="0.6">4月13</text>
<!-- K button -->
<circle cx="996" cy="1029.5" r="16.5" fill="#c9ccd0"/>
<path d="M991,1022.6 L991,1036.2" stroke="#f4f5f6" stroke-width="2" fill="none"/>
<path d="M1001.3,1025.2 L995.2,1030.2 L1001,1035.4" stroke="#f4f5f6" stroke-width="2.6" fill="none" stroke-linecap="round" stroke-linejoin="round"/>
<line x1="0" y1="1045.5" x2="1080" y2="1045.5" stroke="#efefef" stroke-width="1"/>
<!-- red arrows -->
<g stroke="#fd0a0a" stroke-width="10.5" stroke-linecap="round" stroke-linejoin="round" fill="none">
<path d="M17.2,788.6 L848.3,211.8 M816.5,205.6 L848.8,211.8 L843.5,244.3"/>
<path d="M857.7,308.6 L897,432.5 M868.4,419.8 L897.6,433.2 L912.2,406.4"/>
<path d="M75.5,1002.5 L958,457.2 M925.4,448.3 L958.6,457.2 L951.1,490.4"/>
</g>
</svg>
</body></html>
